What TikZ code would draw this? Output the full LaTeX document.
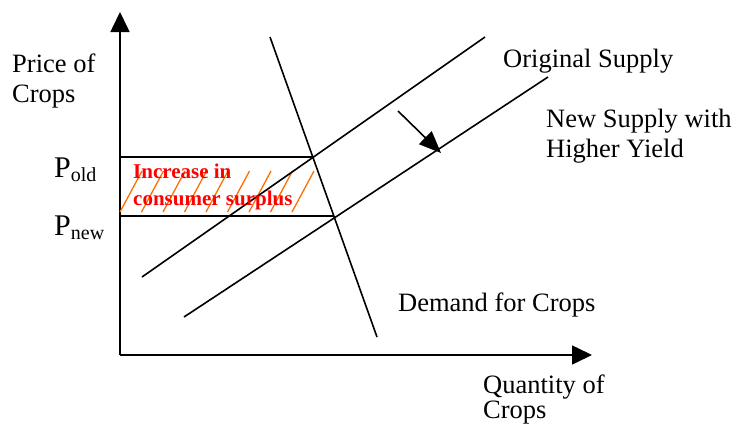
\documentclass[tikz,border=0pt]{standalone}
\usepackage{fontspec}
\setmainfont{Liberation Serif}
\usetikzlibrary{arrows.meta}
\newcommand{\psub}[1]{\fontsize{30}{30}\selectfont P\raisebox{-4pt}{\fontsize{20}{20}\selectfont #1}}
\begin{document}
\begin{tikzpicture}[x=1pt,y=-1pt,
  lbl/.style={anchor=base west,inner sep=0pt,font=\fontsize{26.5}{30}\selectfont},
  red/.style={anchor=base west,inner sep=0pt,text=red,font=\fontsize{21}{27}\selectfont\bfseries},
  ln/.style={line width=1.6pt},
  hatch/.style={draw={rgb,255:red,255;green,110;blue,0},line width=1.3pt},
  ax/.style={line width=1.6pt,-{Triangle[length=20pt,width=19pt]}}]
\useasboundingbox (0,0) rectangle (735,423);
% axes
\coordinate (O) at (120,355);
\coordinate (yt) at (120,12);
\coordinate (xt) at (592,355);
\draw[ax] (O) -- (yt);
\draw[ax] (O) -- (xt);
% hatch
\foreach \i in {0,...,8}{
  \draw[hatch] ({120+21.5*\i},212) -- ({142+21.5*\i},171);
}
% intersection points
\coordinate (E1) at (313.5,157);
\coordinate (E2) at (334,216);
\coordinate (Po) at (120,157);
\coordinate (Pn) at (120,216);
\draw[ln] (Po) -- (E1);
\draw[ln] (Pn) -- (E2);
% supply curves
\coordinate (S1a) at (142,277);
\coordinate (S1b) at (485,37);
\coordinate (S2a) at (184,317);
\coordinate (S2b) at (548,77);
\draw[ln] (S1a) -- (S1b);
\draw[ln] (S2a) -- (S2b);
% demand
\coordinate (Da) at (270,37);
\coordinate (Db) at (377,337);
\draw[ln] (Da) -- (Db);
% shift arrow
\coordinate (Aa) at (398,111);
\coordinate (Ab) at (441,153);
\draw[line width=1.6pt,-{Triangle[length=22pt,width=18pt]}] (Aa) -- (Ab);
% labels
\node[lbl] (py1) at (12,72) {Price of};
\node[lbl] (py2) at (12,102) {Crops};
\node[lbl] (pold) at (54,177) {\psub{old}};
\node[lbl] (pnew) at (54,235) {\psub{new}};
\node[lbl] (os) at (503,67) {Original Supply};
\node[lbl] (ns1) at (546,127) {New Supply with};
\node[lbl] (ns2) at (546,157) {Higher Yield};
\node[lbl] (dc) at (398,311) {Demand for Crops};
\node[lbl] (q1) at (483,393) {Quantity of};
\node[lbl] (q2) at (483,418) {Crops};
\node[red] (r1) at (133,178) {Increase in};
\node[red] (r2) at (133,205) {consumer surplus};
\end{tikzpicture}
\end{document}
